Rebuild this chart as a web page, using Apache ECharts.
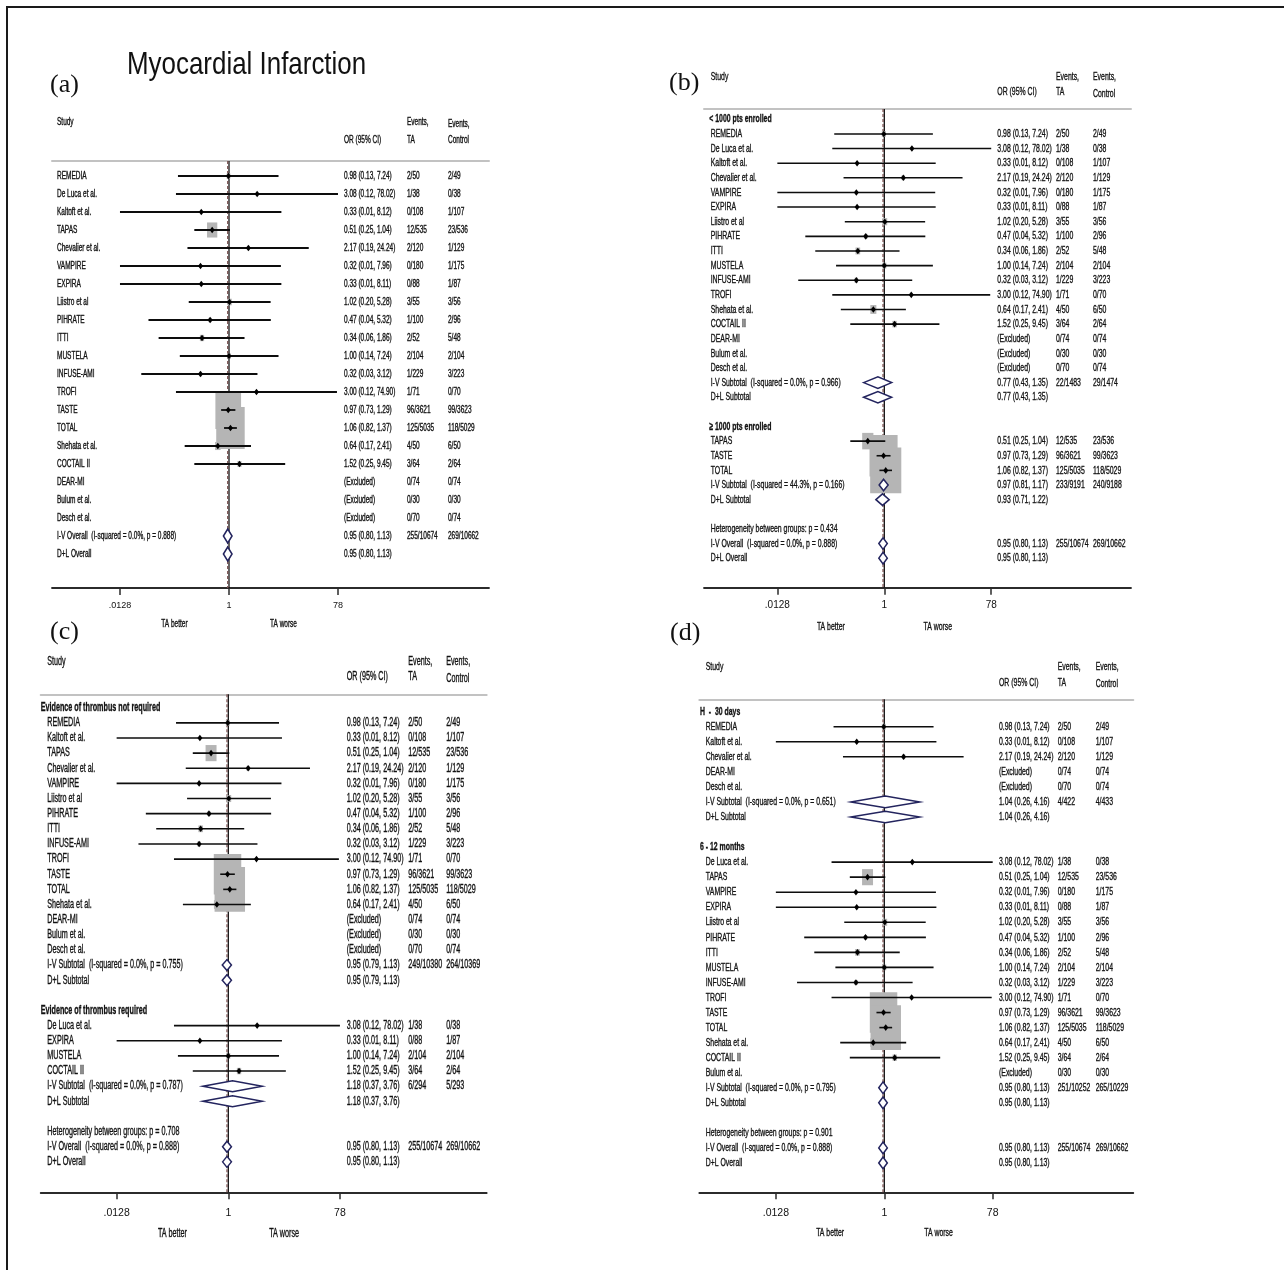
<!DOCTYPE html>
<html>
<head>
<meta charset="utf-8">
<script src="https://cdn.jsdelivr.net/npm/echarts@6/dist/echarts.min.js"></script>
<style>
  html, body { margin: 0; padding: 0; background: #fff; }
  #chart { width: 1284px; height: 1270px; }
</style>
</head>
<body>
<div id="chart"></div>
<script>
// ---- Study-level results: odds ratio (95% CI) and event counts ----
const studyNames = ['REMEDIA', 'De Luca et al.', 'Kaltoft et al.', 'TAPAS', 'Chevalier et al.', 'VAMPIRE',
  'EXPIRA', 'Liistro et al', 'PIHRATE', 'ITTI', 'MUSTELA', 'INFUSE-AMI', 'TROFI', 'TASTE', 'TOTAL',
  'Shehata et al.', 'COCTAIL II', 'DEAR-MI', 'Bulum et al.', 'Desch et al.'];
const orEst  = [0.98, 3.08, 0.33, 0.51, 2.17, 0.32, 0.33, 1.02, 0.47, 0.34, 1.00, 0.32, 3.00, 0.97, 1.06, 0.64, 1.52, null, null, null];
const ciLow  = [0.13, 0.12, 0.01, 0.25, 0.19, 0.01, 0.01, 0.20, 0.04, 0.06, 0.14, 0.03, 0.12, 0.73, 0.82, 0.17, 0.25, null, null, null];
const ciHigh = [7.24, 78.02, 8.12, 1.04, 24.24, 7.96, 8.11, 5.28, 5.32, 1.86, 7.24, 3.12, 74.90, 1.29, 1.37, 2.41, 9.45, null, null, null];
const eventsTA   = ['2/50', '1/38', '0/108', '12/535', '2/120', '0/180', '0/88', '3/55', '1/100', '2/52', '2/104',
  '1/229', '1/71', '96/3621', '125/5035', '4/50', '3/64', '0/74', '0/30', '0/70'];
const eventsCtrl = ['2/49', '0/38', '1/107', '23/536', '1/129', '1/175', '1/87', '3/56', '2/96', '5/48', '2/104',
  '3/223', '0/70', '99/3623', '118/5029', '6/50', '2/64', '0/74', '0/30', '0/74'];

// ---- Axis ticks (odds ratio, log scale) ----
const tickValues = [0.0128, 1, 78];
const tickLabels = ['.0128', '1', '78'];
const overallOR = 0.95;

// ---- Row layout of each forest plot ----
// 'h' group heading, 's' study, 'p' pooled estimate, 't' note, 'b' blank line
const ivOverall = ['p', 'I-V Overall  (I-squared = 0.0%, p = 0.888)', 0.95, 0.80, 1.13, '255/10674', '269/10662'];
const dlOverall = ['p', 'D+L Overall', 0.95, 0.80, 1.13, '', ''];

const rowsA = [
  ['s', 'REMEDIA'], ['s', 'De Luca et al.'], ['s', 'Kaltoft et al.'], ['s', 'TAPAS'], ['s', 'Chevalier et al.'],
  ['s', 'VAMPIRE'], ['s', 'EXPIRA'], ['s', 'Liistro et al'], ['s', 'PIHRATE'], ['s', 'ITTI'], ['s', 'MUSTELA'],
  ['s', 'INFUSE-AMI'], ['s', 'TROFI'], ['s', 'TASTE'], ['s', 'TOTAL'], ['s', 'Shehata et al.'], ['s', 'COCTAIL II'],
  ['s', 'DEAR-MI'], ['s', 'Bulum et al.'], ['s', 'Desch et al.'],
  ivOverall, dlOverall
];

const rowsB = [
  ['h', '< 1000 pts enrolled'],
  ['s', 'REMEDIA'], ['s', 'De Luca et al.'], ['s', 'Kaltoft et al.'], ['s', 'Chevalier et al.'], ['s', 'VAMPIRE'],
  ['s', 'EXPIRA'], ['s', 'Liistro et al'], ['s', 'PIHRATE'], ['s', 'ITTI'], ['s', 'MUSTELA'], ['s', 'INFUSE-AMI'],
  ['s', 'TROFI'], ['s', 'Shehata et al.'], ['s', 'COCTAIL II'], ['s', 'DEAR-MI'], ['s', 'Bulum et al.'], ['s', 'Desch et al.'],
  ['p', 'I-V Subtotal  (I-squared = 0.0%, p = 0.966)', 0.77, 0.43, 1.35, '22/1483', '29/1474'],
  ['p', 'D+L Subtotal', 0.77, 0.43, 1.35, '', ''],
  ['b'],
  ['h', '\u2265 1000 pts enrolled'],
  ['s', 'TAPAS'], ['s', 'TASTE'], ['s', 'TOTAL'],
  ['p', 'I-V Subtotal  (I-squared = 44.3%, p = 0.166)', 0.97, 0.81, 1.17, '233/9191', '240/9188'],
  ['p', 'D+L Subtotal', 0.93, 0.71, 1.22, '', ''],
  ['b'],
  ['t', 'Heterogeneity between groups: p = 0.434'],
  ivOverall, dlOverall
];

const rowsC = [
  ['h', 'Evidence of thrombus not required'],
  ['s', 'REMEDIA'], ['s', 'Kaltoft et al.'], ['s', 'TAPAS'], ['s', 'Chevalier et al.'], ['s', 'VAMPIRE'],
  ['s', 'Liistro et al'], ['s', 'PIHRATE'], ['s', 'ITTI'], ['s', 'INFUSE-AMI'], ['s', 'TROFI'], ['s', 'TASTE'],
  ['s', 'TOTAL'], ['s', 'Shehata et al.'], ['s', 'DEAR-MI'], ['s', 'Bulum et al.'], ['s', 'Desch et al.'],
  ['p', 'I-V Subtotal  (I-squared = 0.0%, p = 0.755)', 0.95, 0.79, 1.13, '249/10380', '264/10369'],
  ['p', 'D+L Subtotal', 0.95, 0.79, 1.13, '', ''],
  ['b'],
  ['h', 'Evidence of thrombus required'],
  ['s', 'De Luca et al.'], ['s', 'EXPIRA'], ['s', 'MUSTELA'], ['s', 'COCTAIL II'],
  ['p', 'I-V Subtotal  (I-squared = 0.0%, p = 0.787)', 1.18, 0.37, 3.76, '6/294', '5/293'],
  ['p', 'D+L Subtotal', 1.18, 0.37, 3.76, '', ''],
  ['b'],
  ['t', 'Heterogeneity between groups: p = 0.708'],
  ivOverall, dlOverall
];

const rowsD = [
  ['h', 'H  -  30 days'],
  ['s', 'REMEDIA'], ['s', 'Kaltoft et al.'], ['s', 'Chevalier et al.'], ['s', 'DEAR-MI'], ['s', 'Desch et al.'],
  ['p', 'I-V Subtotal  (I-squared = 0.0%, p = 0.651)', 1.04, 0.26, 4.16, '4/422', '4/433'],
  ['p', 'D+L Subtotal', 1.04, 0.26, 4.16, '', ''],
  ['b'],
  ['h', '6 - 12 months'],
  ['s', 'De Luca et al.'], ['s', 'TAPAS'], ['s', 'VAMPIRE'], ['s', 'EXPIRA'], ['s', 'Liistro et al'], ['s', 'PIHRATE'],
  ['s', 'ITTI'], ['s', 'MUSTELA'], ['s', 'INFUSE-AMI'], ['s', 'TROFI'], ['s', 'TASTE'], ['s', 'TOTAL'],
  ['s', 'Shehata et al.'], ['s', 'COCTAIL II'], ['s', 'Bulum et al.'],
  ['p', 'I-V Subtotal  (I-squared = 0.0%, p = 0.795)', 0.95, 0.80, 1.13, '251/10252', '265/10229'],
  ['p', 'D+L Subtotal', 0.95, 0.80, 1.13, '', ''],
  ['b'],
  ['t', 'Heterogeneity between groups: p = 0.901'],
  ivOverall, dlOverall
];

// ---- Panel geometry and styling ----
const panels = [
  { rows: rowsA, grid: { left: 52, top: 161, width: 437, height: 427 }, xr: [-3.073, 4.514], yr: [-0.833, 22.889],
    fs: 10, sx: 0.65, ciW: 1.8, boxK: 21.5, dH: 14, lblMargin: 13, lblSize: 9, favY: 36,
    col: { head: 5, name: 5, or: 292, ta: 355, ctrl: 396 }, hdr: { y1: -39, y2: -21, c1: -37, c2: -20.3 } },
  { rows: rowsB, grid: { left: 704, top: 109, width: 427, height: 478.7 }, xr: [-3.191, 4.366], yr: [-0.704, 32.02],
    fs: 11.5, sx: 0.6, ciW: 1.6, boxK: 23.5, dH: 11.6, lblMargin: 13, lblSize: 10, favY: 39,
    col: { head: 5.3, name: 6.7, or: 293.3, ta: 352, ctrl: 389 }, hdr: { y1: -32.5, y2: -17, c1: -32.3, c2: -14.8 } },
  { rows: rowsC, grid: { left: 40.7, top: 694.3, width: 446, height: 498 }, xr: [-3.18, 4.38], yr: [-0.885, 32.01],
    fs: 12, sx: 0.6, ciW: 1.6, boxK: 23, dH: 11, lblMargin: 15, lblSize: 10.5, favY: 41,
    col: { head: 0, name: 6.6, or: 306, ta: 367.6, ctrl: 405.5 }, hdr: { y1: -32.6, y2: -17.6, c1: -32.6, c2: -16 } },
  { rows: rowsD, grid: { left: 699.3, top: 699.3, width: 434, height: 493 }, xr: [-3.229, 4.346], yr: [-0.824, 31.95],
    fs: 11.5, sx: 0.6, ciW: 1.6, boxK: 23, dH: 11.7, lblMargin: 15, lblSize: 10.5, favY: 41,
    col: { head: 0.7, name: 6.4, or: 299.7, ta: 358.4, ctrl: 396.4 }, hdr: { y1: -32.6, y2: -16.6, c1: -32.6, c2: -15.3 } }
];

const L10 = Math.log10;
const FONT = '"Liberation Sans", Arial, "Helvetica", sans-serif';
const INK = '#111';
const f2 = v => v.toFixed(2);
const ciText = (e, lo, hi) => f2(e) + ' (' + f2(lo) + ', ' + f2(hi) + ')';
const clampOR = v => Math.min(Math.max(v, tickValues[0]), tickValues[tickValues.length - 1]);

function rowEstimate(row) {
  if (row[0] === 's') {
    const k = studyNames.indexOf(row[1]);
    return orEst[k];
  }
  if (row[0] === 'p') return row[2];
  return null;
}

function makeRenderer(p) {
  return function (params, api) {
    const i = params.dataIndex;
    const row = p.rows[i];
    const cs = params.coordSys;
    const y = api.coord([0, i])[1];
    const X = v => api.coord([L10(v), i])[0];
    const kids = [];
    const text = (s, x, yy, opts) => {
      opts = opts || {};
      kids.push({
        type: 'text', x: x, y: yy, scaleX: p.sx, z2: 30,
        style: {
          text: s, x: 0, y: 0, fill: INK, stroke: INK, lineWidth: 0.35,
          font: (opts.bold ? 'bold ' : '') + (opts.size || p.fs) + 'px ' + FONT,
          align: opts.align || 'left', verticalAlign: 'middle'
        }
      });
    };

    if (i === 0) {
      // column headings
      const top = cs.y;
      text('Study', cs.x + p.col.name, top + p.hdr.y1);
      text('OR (95% CI)', cs.x + p.col.or, top + p.hdr.y2);
      text('Events,', cs.x + p.col.ta, top + p.hdr.y1);
      text('TA', cs.x + p.col.ta, top + p.hdr.y2);
      text('Events,', cs.x + p.col.ctrl, top + p.hdr.c1);
      text('Control', cs.x + p.col.ctrl, top + p.hdr.c2);
      // line of no effect and overall estimate
      const x1 = X(1), xo = X(overallOR);
      kids.push({ type: 'line', z2: -5, shape: { x1: x1, y1: cs.y, x2: x1, y2: cs.y + cs.height },
        style: { stroke: '#111', lineWidth: 1.3 } });
      kids.push({ type: 'line', z2: -4, shape: { x1: xo, y1: cs.y, x2: xo, y2: cs.y + cs.height },
        style: { stroke: '#7d5555', lineWidth: 1.3, lineDash: [3, 2] } });
      // direction captions under the axis
      const fy = cs.y + cs.height + p.favY;
      text('TA better', X(Math.sqrt(tickValues[0] * tickValues[1])), fy, { align: 'center' });
      text('TA worse', X(Math.sqrt(tickValues[1] * tickValues[2])), fy, { align: 'center' });
    }

    const kind = row[0];
    if (kind === 'h') {
      text(row[1], cs.x + p.col.head, y, { bold: true });
    } else if (kind === 't') {
      text(row[1], cs.x + p.col.name, y);
    } else if (kind === 's') {
      const k = studyNames.indexOf(row[1]);
      text(row[1], cs.x + p.col.name, y);
      text(eventsTA[k], cs.x + p.col.ta, y);
      text(eventsCtrl[k], cs.x + p.col.ctrl, y);
      if (orEst[k] == null) {
        text('(Excluded)', cs.x + p.col.or, y);
      } else {
        const e = orEst[k], lo = ciLow[k], hi = ciHigh[k];
        text(ciText(e, lo, hi), cs.x + p.col.or, y);
        const xe = X(e);
        // weight box (inverse-variance, side proportional to 1/log CI width)
        const side = p.boxK / Math.log(hi / lo);
        const w = side * 0.68;
        kids.push({ type: 'rect', z2: 0, shape: { x: xe - w / 2, y: y - side / 2, width: w, height: side },
          style: { fill: '#b5b5b5' } });
        kids.push({ type: 'line', z2: 10, shape: { x1: X(clampOR(lo)), y1: y, x2: X(clampOR(hi)), y2: y },
          style: { stroke: '#0d0d0d', lineWidth: p.ciW } });
        kids.push({ type: 'polygon', z2: 20, shape: { points: [[xe, y - 3.3], [xe + 2.5, y], [xe, y + 3.3], [xe - 2.5, y]] },
          style: { fill: '#000' } });
      }
    } else if (kind === 'p') {
      const e = row[2], lo = row[3], hi = row[4];
      text(row[1], cs.x + p.col.name, y);
      text(ciText(e, lo, hi), cs.x + p.col.or, y);
      if (row[5]) text(row[5], cs.x + p.col.ta, y);
      if (row[6]) text(row[6], cs.x + p.col.ctrl, y);
      const h = p.dH / 2;
      kids.push({ type: 'polygon', z2: 25,
        shape: { points: [[X(lo), y], [X(e), y - h], [X(hi), y], [X(e), y + h]] },
        style: { fill: '#fff', stroke: '#23245e', lineWidth: 1.5 } });
    }
    return { type: 'group', children: kids };
  };
}

const grids = [], xAxes = [], yAxes = [], series = [];
panels.forEach((p, g) => {
  grids.push(Object.assign({ containLabel: false }, p.grid));
  // bottom OR axis
  xAxes.push({
    gridIndex: g, type: 'value', position: 'bottom', min: p.xr[0], max: p.xr[1],
    axisLine: { show: true, onZero: false, lineStyle: { color: '#2b2b2b', width: 1.8 } },
    axisTick: { show: true, customValues: tickValues.map(L10), length: 7, lineStyle: { color: '#2b2b2b', width: 1.5 } },
    axisLabel: {
      show: true, customValues: tickValues.map(L10), margin: p.lblMargin,
      fontSize: p.lblSize, color: '#111',
      fontFamily: '"Liberation Sans Narrow", "Arial Narrow", "Liberation Sans", sans-serif',
      formatter: v => {
        const k = tickValues.findIndex(t => Math.abs(L10(t) - v) < 1e-6);
        return k >= 0 ? tickLabels[k] : '';
      }
    },
    splitLine: { show: false }
  });
  // header rule along the top of the plot
  xAxes.push({
    gridIndex: g, type: 'value', position: 'top', min: p.xr[0], max: p.xr[1],
    axisLine: { show: true, onZero: false, lineStyle: { color: '#c2c2c2', width: 2 } },
    axisTick: { show: false }, axisLabel: { show: false }, splitLine: { show: false }
  });
  yAxes.push({ gridIndex: g, type: 'value', inverse: true, min: p.yr[0], max: p.yr[1], show: false });
  series.push({
    type: 'custom', coordinateSystem: 'cartesian2d', xAxisIndex: 2 * g, yAxisIndex: g,
    clip: false, silent: true, animation: false,
    renderItem: makeRenderer(p),
    data: p.rows.map((r, i) => {
      const e = rowEstimate(r);
      return [e == null ? 0 : L10(e), i];
    })
  });
});

const panelTag = (s, x, y) => ({
  type: 'text', left: x, top: y,
  style: { text: s, font: '26px "Liberation Serif", "Times New Roman", serif', fill: '#111' }
});

const option = {
  backgroundColor: '#fff',
  animation: false,
  grid: grids,
  xAxis: xAxes,
  yAxis: yAxes,
  series: series,
  graphic: [
    { type: 'line', shape: { x1: 6, y1: 7, x2: 1284, y2: 7 }, style: { stroke: '#1a1a1a', lineWidth: 2 } },
    { type: 'line', shape: { x1: 7, y1: 6, x2: 7, y2: 1270 }, style: { stroke: '#1a1a1a', lineWidth: 2 } },
    { type: 'text', x: 127, y: 65, scaleX: 0.81,
      style: { text: 'Myocardial Infarction', font: '32px "Liberation Sans", Arial, sans-serif', fill: '#111',
        align: 'left', verticalAlign: 'middle' } },
    panelTag('(a)', 50, 72),
    panelTag('(b)', 669, 70),
    panelTag('(c)', 50, 619),
    panelTag('(d)', 670, 620)
  ]
};

const chart = echarts.init(document.getElementById('chart'), null, { renderer: 'canvas' });
chart.setOption(option);
</script>
</body>
</html>
